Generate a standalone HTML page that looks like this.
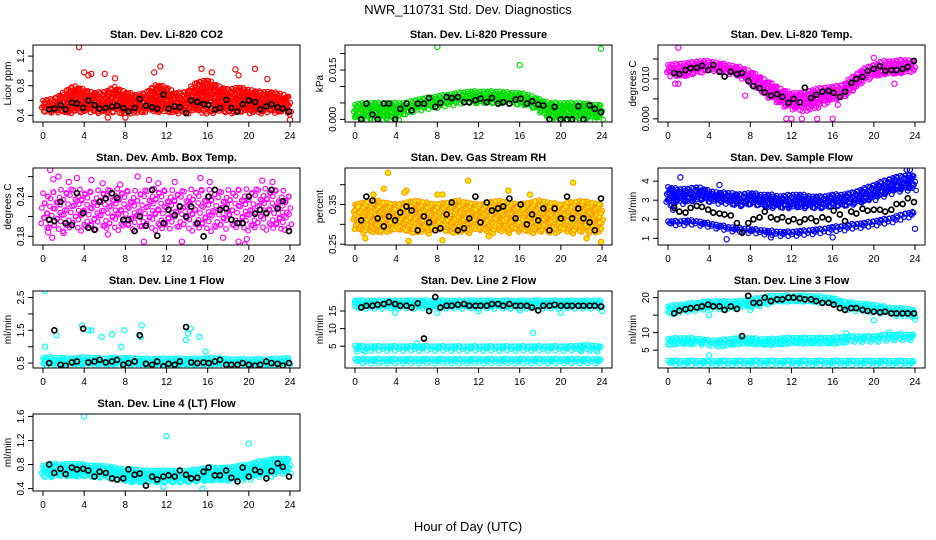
<!DOCTYPE html>
<html><head><meta charset="utf-8"><style>
body{margin:0;background:#fff;}
svg{display:block;font-family:"Liberation Sans",sans-serif;}
</style></head><body>
<svg id="c" width="936" height="540" viewBox="0 0 936 540" xmlns="http://www.w3.org/2000/svg">
<text x="468" y="14" text-anchor="middle" font-size="13">NWR_110731  Std. Dev. Diagnostics</text>
<text x="468" y="531" text-anchor="middle" font-size="13">Hour of Day (UTC)</text>
</svg>
<script>
// shared
const blackHours=[0.6,1.1,1.7,2.2,2.8,3.3,3.9,4.4,5.0,5.5,6.1,6.7,7.2,7.8,8.3,8.9,9.4,10.0,10.6,11.1,11.7,12.2,12.8,13.3,13.9,14.4,15.0,15.6,16.1,16.7,17.2,17.8,18.3,18.9,19.4,20.0,20.6,21.1,21.7,22.2,22.8,23.3,23.9];
const xTicks=[0,4,8,12,16,20,24];
// P1 CO2
const co2Black=[0.48,0.49,0.54,0.48,0.57,0.56,0.5,0.6,0.54,0.49,0.5,0.52,0.53,0.5,0.45,0.5,0.62,0.53,0.51,0.49,0.68,0.49,0.52,0.51,0.43,0.6,0.58,0.55,0.54,0.48,0.5,0.61,0.5,0.45,0.55,0.6,0.58,0.48,0.52,0.55,0.51,0.49,0.45];
const co2Lo=[0.45,0.44,0.43,0.44,0.43,0.44,0.43,0.44,0.43,0.44,0.44,0.43,0.44,0.43,0.44,0.44,0.43,0.44,0.43,0.44,0.44,0.43,0.44,0.43,0.43];
const co2Hi=[0.6,0.62,0.7,0.8,0.75,0.7,0.72,0.78,0.72,0.68,0.7,0.82,0.78,0.7,0.72,0.85,0.88,0.8,0.75,0.78,0.75,0.72,0.72,0.7,0.65];
const co2OutX=[3.5,4.0,4.4,4.7,6.0,7.0,10.8,11.4,15.4,16.4,18.7,19.0,20.6,21.8,6.3,24,8.0];
const co2OutY=[1.32,0.98,0.94,0.96,0.96,0.9,0.98,1.06,1.03,0.98,1.02,0.94,1.03,0.89,0.37,0.34,0.37];
// P2 pressure
const prBlack=[0,0.0048,0.0015,0,0.0048,0.0048,0,0.0032,0.0048,0.0027,0.0048,0.0048,0.0065,0.0038,0.005,0.0068,0.0065,0.0068,0.0052,0.0052,0.0058,0.0063,0.0052,0.0065,0.0048,0.0052,0.0048,0.006,0.0063,0.0048,0.0055,0.0045,0.0042,0,0.0038,0,0,0,0.004,0,0.0043,0.0032,0.0022];
const prLo=[0,0,0,0,0,0.002,0.003,0.0035,0.004,0.0045,0.005,0.005,0.005,0.005,0.005,0.005,0.0045,0.004,0.002,0,0,0,0,0,0];
const prHi=[0.0045,0.005,0.005,0.005,0.005,0.005,0.006,0.0065,0.007,0.0075,0.008,0.0085,0.0085,0.0085,0.0085,0.0082,0.008,0.0075,0.006,0.005,0.005,0.005,0.005,0.0045,0.0045];
const prOutX=[8,16,23.9];
const prOutY=[0.022,0.0165,0.0215];
// P3 temp
const tBlack=[0.0115,0.0112,0.0122,0.0127,0.0128,0.0133,0.0122,0.0135,0.0118,0.0106,0.0118,0.0112,0.0115,0.0095,0.0082,0.0077,0.0066,0.0058,0.0062,0.0055,0.004,0.005,0.0041,0.0078,0.0052,0.006,0.0068,0.007,0.0065,0.0055,0.0068,0.009,0.01,0.0105,0.012,0.0125,0.0132,0.012,0.0122,0.0122,0.0125,0.013,0.0145];
const tLo=[0.011,0.0105,0.0108,0.0115,0.0122,0.0118,0.0112,0.0105,0.009,0.0065,0.005,0.0035,0.0025,0.002,0.0025,0.0035,0.0045,0.005,0.007,0.0095,0.0108,0.011,0.0112,0.0115,0.012];
const tHi=[0.0135,0.0138,0.014,0.0145,0.0145,0.014,0.0135,0.013,0.012,0.0105,0.009,0.0075,0.0065,0.0065,0.0072,0.0078,0.008,0.0085,0.0105,0.0125,0.0135,0.0145,0.0145,0.0148,0.0145];
const tOutX=[1,0.7,1.0,7.5,11.5,12,13,14.5,16,22,20,16.5];
const tOutY=[0.0178,0.0088,0.0088,0.0058,0,0,0,0,0,0.0088,0.0153,0.0035];
// P4 amb box
const abBlack=[0.205,0.203,0.232,0.2,0.197,0.245,0.215,0.193,0.19,0.232,0.237,0.245,0.238,0.205,0.205,0.188,0.21,0.196,0.25,0.181,0.2,0.22,0.212,0.225,0.21,0.225,0.2,0.18,0.24,0.25,0.22,0.222,0.205,0.2,0.2,0.24,0.214,0.22,0.215,0.25,0.222,0.233,0.188];
const abLo=[0.19,0.19,0.188,0.19,0.19,0.188,0.19,0.19,0.19,0.188,0.19,0.19,0.188,0.19,0.19,0.19,0.188,0.19,0.19,0.19,0.188,0.19,0.19,0.19,0.19];
const abHi=[0.245,0.248,0.25,0.252,0.25,0.248,0.25,0.252,0.25,0.248,0.25,0.252,0.25,0.248,0.25,0.252,0.25,0.248,0.25,0.252,0.25,0.252,0.252,0.25,0.245];
const abOutX=[0.7,1.0,1.5,2.5,3.3,4.7,5.8,7.5,9.2,10.3,11.2,12.8,13.5,15.3,16.2,17.5,19.0,19.6,19.8,21.3,22.3,23.5,0.5,0.9,2.0,6.3,9.8];
const abOutY=[0.28,0.266,0.27,0.262,0.268,0.265,0.26,0.258,0.27,0.265,0.26,0.262,0.172,0.268,0.262,0.178,0.172,0.168,0.176,0.264,0.262,0.19,0.186,0.178,0.185,0.183,0.172];
// P5 RH
const rhBlack=[0.31,0.37,0.36,0.315,0.295,0.32,0.31,0.33,0.345,0.335,0.285,0.32,0.305,0.285,0.29,0.325,0.355,0.285,0.29,0.315,0.37,0.305,0.355,0.335,0.34,0.345,0.365,0.315,0.35,0.3,0.325,0.31,0.34,0.285,0.34,0.315,0.37,0.315,0.34,0.315,0.305,0.285,0.365];
const rhLo=[0.285,0.28,0.282,0.28,0.285,0.28,0.282,0.28,0.285,0.28,0.282,0.28,0.285,0.28,0.282,0.28,0.285,0.28,0.282,0.28,0.285,0.28,0.282,0.28,0.285];
const rhHi=[0.35,0.355,0.36,0.355,0.35,0.355,0.36,0.355,0.35,0.355,0.36,0.355,0.35,0.355,0.36,0.355,0.35,0.355,0.36,0.355,0.35,0.355,0.36,0.355,0.35];
const rhOutX=[3.2,1.8,2.8,5.0,8.0,8.5,11.0,14.9,17.0,21.2,1.0,5.2,8.5,13.0,22.5,23.9,0.3,4.8];
const rhOutY=[0.43,0.375,0.39,0.385,0.375,0.375,0.41,0.385,0.375,0.405,0.265,0.258,0.26,0.27,0.265,0.256,0.345,0.38];
// P6 sample flow
const sfBlack=[2.6,2.4,2.35,2.6,2.7,2.65,2.5,2.35,2.3,2.25,2.2,1.8,1.3,1.8,2.0,2.1,2.4,2.1,2.0,2.1,1.9,2.0,1.85,2.0,2.05,1.9,2.1,2.0,2.45,2.25,1.9,2.4,2.3,2.55,2.45,2.5,2.5,2.4,2.5,2.8,2.8,3.1,2.9];
const sfUpLo=[2.7,2.8,2.9,3.0,2.9,2.9,2.8,2.7,2.8,2.7,2.6,2.6,2.6,2.6,2.6,2.6,2.7,2.7,2.8,2.9,3.0,3.2,3.4,3.5,3.5];
const sfUpHi=[3.7,3.6,3.6,3.7,3.5,3.4,3.4,3.3,3.4,3.3,3.3,3.2,3.3,3.3,3.2,3.2,3.3,3.3,3.4,3.6,3.8,4.0,4.2,4.3,4.3];
const sfLowLo=[1.7,1.7,1.75,1.7,1.6,1.5,1.4,1.35,1.3,1.25,1.2,1.15,1.15,1.2,1.25,1.3,1.4,1.45,1.55,1.6,1.7,1.8,1.9,2.1,2.2];
const sfLowHi=[1.9,1.9,1.95,1.9,1.8,1.7,1.6,1.55,1.5,1.45,1.4,1.35,1.35,1.4,1.45,1.5,1.6,1.65,1.75,1.8,1.9,2.0,2.1,2.3,2.4];
const sfOutX=[1.2,5.0,5.7,10.0,16.0,23.2,23.5,24.0,0.5];
const sfOutY=[4.2,3.8,0.95,1.05,1.05,4.6,4.6,1.5,2.5];
// P7 line 1
const l1Black=[0.5,1.5,0.45,0.42,0.52,0.55,1.55,0.52,0.55,0.6,0.52,0.55,0.6,0.45,0.5,0.55,1.35,0.48,0.45,0.55,0.4,0.48,0.45,0.55,1.6,0.52,0.5,0.52,0.5,0.55,0.6,0.45,0.45,0.45,0.5,0.45,0.42,0.45,0.55,0.5,0.48,0.42,0.5];
const l1Lo=[0.42,0.42,0.42,0.42,0.42,0.42,0.42,0.42,0.42,0.42,0.42,0.42,0.42,0.42,0.42,0.42,0.42,0.42,0.42,0.42,0.42,0.42,0.42,0.42,0.42];
const l1Hi=[0.66,0.68,0.66,0.65,0.68,0.66,0.65,0.66,0.66,0.65,0.64,0.64,0.64,0.64,0.64,0.64,0.65,0.66,0.62,0.62,0.62,0.62,0.62,0.64,0.66];
const l1OutX=[0.2,0.2,1.3,3.8,4.4,4.7,5.7,6.7,7.6,7.9,9.6,9.5,13.9,14.1,15.2,15.8,14.3];
const l1OutY=[2.7,1.0,1.35,1.65,1.5,1.5,1.3,1.38,1.0,1.5,1.65,1.3,1.2,1.4,1.3,0.85,1.55];
// P8 line 2
const l2Black=[16,16.5,16.5,16.8,17,17.5,17,16.5,16.5,16,17.2,7.2,15,19,16,16.5,16.5,16.8,17,16.5,16.5,16.5,16.5,17,17,16.5,17,16.5,16.5,16.5,16,15.2,16.5,16.5,16.8,16.5,16.5,16.5,16.5,16.5,16.5,16.5,16.3];
const l2TopLo=[16,16,16,16,16,16,16,16,16,16,16,16,16,16,16,16,16,16,16,16,16,16,16,16,16];
const l2TopHi=[18,18,18,18,18,18,18,18,18,18,18,18,18,18,18,18,18,18,18,18,18,18,18,18,18];
const l2MidLo=[3.8,3.8,3.9,3.9,3.9,3.9,3.9,3.9,3.9,3.9,3.9,3.9,3.9,3.9,3.9,3.9,3.9,3.9,3.9,3.9,3.9,3.9,3.9,3.9,3.9];
const l2MidHi=[5.2,5.0,5.0,5.0,5.0,5.0,5.0,5.0,5.0,5.0,5.0,5.0,5.0,5.0,5.0,5.0,5.0,5.0,5.0,5.0,5.0,5.0,5.3,5.3,5.0];
const l2BotLo=[0.4,0.4,0.4,0.4,0.4,0.4,0.4,0.4,0.4,0.4,0.4,0.4,0.4,0.4,0.4,0.4,0.4,0.4,0.4,0.4,0.4,0.4,0.4,0.4,0.4];
const l2BotHi=[1.4,1.4,1.4,1.4,1.4,1.4,1.4,1.4,1.4,1.4,1.4,1.4,1.4,1.4,1.4,1.4,1.4,1.4,1.4,1.4,1.4,1.4,1.4,1.4,1.4];
const l2OutX=[0,24,3.9,6.0,8,12,16,17.3,20];
const l2OutY=[17.5,15,14.5,5.8,14.5,15,15.2,8.8,14.5];
// P9 line 3
const l3Black=[15.5,16.3,16.7,17,17.2,17.5,18,17.5,17.5,16.5,17.5,16.8,9,20.5,18.5,18.5,20,19,19.5,19.5,20,20,19.8,19.5,19.5,19,18.5,18.5,18,17,16.5,17,17,16.5,16.2,16,15.8,16,15.5,15.5,15.5,15.5,15.5];
const l3TopLo=[15.5,16,16.3,16.7,17,17,17,17,17.5,18,18.5,18.8,19,19,18.8,18.5,18,17,16.5,16.3,16,15.5,15,15,14.5];
const l3TopHi=[17.5,18,18.3,18.7,19,19,19,19,19.5,20,20.5,20.6,20.6,20.6,20.5,20.3,20,19,18.5,18.3,18,17.5,17,17,16.5];
const l3MidLo=[6.5,6.8,6.8,6.8,6.3,6.2,6.5,6.8,6.8,6.6,6.6,6.8,7,7,7,7,7,7.2,7.5,7.5,7.5,7.8,8,8,8];
const l3MidHi=[8.2,8.5,8.5,8.3,7.8,7.8,8.2,8.5,8.5,8.2,8.2,8.4,8.6,8.6,8.6,8.6,8.6,8.8,9,9,9,9.3,9.5,9.5,9.5];
const l3BotLo=[1.2,1.2,1.2,1.2,1.2,1.2,1.2,1.2,1.2,1.2,1.2,1.2,1.2,1.2,1.2,1.2,1.2,1.2,1.2,1.2,1.2,1.2,1.2,1.2,1.2];
const l3BotHi=[2.0,2.0,2.0,2.0,2.0,2.0,2.0,2.0,2.0,2.0,2.0,2.0,2.0,2.0,2.0,2.0,2.0,2.0,2.0,2.0,2.0,2.0,2.0,2.0,2.0];
const l3OutX=[4.0,4.0,20,21.5,17.3,24,8];
const l3OutY=[3.5,15,13.5,10,9.8,13.8,16.5];
// P10 line 4
const l4Black=[0.8,0.66,0.73,0.64,0.75,0.72,0.73,0.7,0.6,0.68,0.66,0.57,0.55,0.57,0.72,0.63,0.65,0.45,0.6,0.55,0.6,0.62,0.6,0.7,0.63,0.57,0.58,0.68,0.75,0.62,0.62,0.7,0.58,0.52,0.75,0.6,0.71,0.68,0.57,0.69,0.82,0.76,0.6];
const l4Lo=[0.58,0.6,0.6,0.6,0.6,0.58,0.57,0.55,0.52,0.5,0.5,0.5,0.5,0.5,0.5,0.52,0.52,0.52,0.53,0.55,0.55,0.6,0.62,0.65,0.65];
const l4Hi=[0.78,0.82,0.8,0.82,0.8,0.78,0.78,0.75,0.72,0.72,0.7,0.7,0.7,0.7,0.7,0.72,0.75,0.75,0.75,0.78,0.8,0.85,0.88,0.9,0.9];
const l4OutX=[4,12,20,15.5,11.7];
const l4OutY=[1.6,1.27,1.15,0.4,0.43];

const NS="http://www.w3.org/2000/svg";
const svg=document.getElementById('c');
function mk(tag,attrs,parent){const e=document.createElementNS(NS,tag);for(const k in attrs)e.setAttribute(k,attrs[k]);(parent||svg).appendChild(e);return e;}
const colX=[43,355,668], rowY=[45,168,291,414], H=77, XW=247;
// deterministic texture offsets for cloud fill (visual only)
const jit=[0,1.6,-1.2,0.8,-1.8,1.1,-0.5,1.9,-1.4,0.3,-0.9,1.4];

const panels=[
 {name:'co2',title:'Stan. Dev. Li-820 CO2',ylab:'Licor ppm',c:0,r:0,d:[0.31,1.35],ticks:[0.4,0.6,0.8,1.0,1.2],labs:['0.4','','0.8','','1.2'],col:'#ff0000',bands:[[co2Lo,co2Hi]],ox:co2OutX,oy:co2OutY,blk:co2Black},
 {name:'pressure',title:'Stan. Dev. Li-820 Pressure',ylab:'kPa',c:1,r:0,d:[-0.0008,0.0226],ticks:[0,0.005,0.01,0.015,0.02],labs:['0.000','','','0.015',''],col:'#00dd00',bands:[[prLo,prHi]],ox:prOutX,oy:prOutY,blk:prBlack},
 {name:'temp',title:'Stan. Dev. Li-820 Temp.',ylab:'degrees C',c:2,r:0,d:[-0.0008,0.0185],ticks:[0,0.005,0.01,0.015],labs:['0.000','','0.010',''],col:'#ff00ff',bands:[[tLo,tHi]],ox:tOutX,oy:tOutY,blk:tBlack},
 {name:'amb-box',title:'Stan. Dev. Amb. Box Temp.',ylab:'degrees C',c:0,r:1,d:[0.167,0.283],ticks:[0.18,0.21,0.24,0.27],labs:['0.18','','0.24',''],col:'#ff00ff',bands:[[abLo,abHi]],ox:abOutX,oy:abOutY,blk:abBlack,sparse:true},
 {name:'rh',title:'Stan. Dev. Gas Stream RH',ylab:'percent',c:1,r:1,d:[0.248,0.442],ticks:[0.25,0.3,0.35,0.4],labs:['0.25','','0.35',''],col:'#ff9900',stroke2:'#ffee00',bands:[[rhLo,rhHi]],ox:rhOutX,oy:rhOutY,blk:rhBlack},
 {name:'sample-flow',title:'Stan. Dev. Sample Flow',ylab:'ml/min',c:2,r:1,d:[0.65,4.69],ticks:[1,2,3,4],labs:['1','2','3','4'],col:'#0000ff',bands:[[sfUpLo,sfUpHi],[sfLowLo,sfLowHi]],ox:sfOutX,oy:sfOutY,blk:sfBlack},
 {name:'line1',title:'Stan. Dev. Line 1 Flow',ylab:'ml/min',c:0,r:2,d:[0.35,2.7],ticks:[0.5,1,1.5,2,2.5],labs:['0.5','','1.5','','2.5'],col:'#00ffff',bands:[[l1Lo,l1Hi]],ox:l1OutX,oy:l1OutY,blk:l1Black},
 {name:'line2',title:'Stan. Dev. Line 2 Flow',ylab:'ml/min',c:1,r:2,d:[-1.2,20.7],ticks:[5,10,15],labs:['5','10','15'],col:'#00ffff',bands:[[l2TopLo,l2TopHi],[l2MidLo,l2MidHi],[l2BotLo,l2BotHi]],ox:l2OutX,oy:l2OutY,blk:l2Black},
 {name:'line3',title:'Stan. Dev. Line 3 Flow',ylab:'ml/min',c:2,r:2,d:[-0.1,21.9],ticks:[5,10,15,20],labs:['5','10','','20'],col:'#00ffff',bands:[[l3TopLo,l3TopHi],[l3MidLo,l3MidHi],[l3BotLo,l3BotHi]],ox:l3OutX,oy:l3OutY,blk:l3Black},
 {name:'line4',title:'Stan. Dev. Line 4 (LT) Flow',ylab:'ml/min',c:0,r:3,d:[0.36,1.64],ticks:[0.4,0.8,1.2,1.6],labs:['0.4','0.8','1.2','1.6'],col:'#00ffff',bands:[[l4Lo,l4Hi]],ox:l4OutX,oy:l4OutY,blk:l4Black}
];

panels.forEach(p=>{
  const x0=colX[p.c], top=rowY[p.r], bl=x0-10, bw=XW+20;
  const X=h=>x0+h/24*XW;
  const Y=v=>top+(p.d[1]-v)/(p.d[1]-p.d[0])*H;
  const g=mk('g',{});
  
  
  const cp=mk('clipPath',{id:'cl'+p.name},g);
  mk('rect',{x:bl,y:top,width:bw,height:H},cp);
  const t=mk('text',{x:bl+bw/2,y:top-7,'text-anchor':'middle','font-size':11,'font-weight':'bold'},g);
  t.textContent=p.title;
  
  
  const pts=mk('g',{'clip-path':'url(#cl'+p.name+')',fill:'none','stroke-width':1.2},g);
  
  
  const stroke=p.col;
  const interp=(arr,h)=>{const i=Math.min(23,Math.floor(h));const f=h-i;return arr[i]*(1-f)+arr[i+1]*f;};
  const dx=p.sparse?0.3:0.13, dy=p.sparse?8:4.2;
  p.bands.forEach(([lo,hi])=>{
    let k=0;
    for(let h=0;h<=24.001;h+=dx,k++){
      const ya=Y(interp(lo,h)), yb=Y(interp(hi,h));
      let m=0;
      for(let y=yb+(k%3)*dy/3;y<=ya;y+=dy,m++){
        const jx=jit[(k+m)%jit.length], jy=jit[(k*5+m*7)%jit.length];
        const c=mk('circle',{cx:(X(h)+jx).toFixed(1),cy:(y+jy).toFixed(1),r:2.3,stroke:stroke},pts);
        if(p.stroke2){c.setAttribute('fill',p.stroke2);}
      }
    }
  });
  p.ox.forEach((h,i)=>{
    const c=mk('circle',{cx:X(h),cy:Y(p.oy[i]),r:2.6,stroke:stroke},pts);
    if(p.stroke2){c.setAttribute('fill',p.stroke2);}
  });
  const bg=mk('g',{'clip-path':'url(#cl'+p.name+')',fill:'none',stroke:'#000','stroke-width':1.7},g);
  
  
  blackHours.forEach((h,i)=>{mk('circle',{cx:X(h),cy:Y(p.blk[i]),r:2.5},bg);});
  const box=mk('rect',{x:bl,y:top,width:bw,height:H,fill:'none',stroke:'#000','stroke-width':1},g);
  
  
  const xa=mk('g',{stroke:'#000','stroke-width':1},g);
  
  
  mk('line',{x1:X(0),x2:X(24),y1:top+H,y2:top+H},xa);
  xTicks.forEach(v=>{
    mk('line',{x1:X(v),x2:X(v),y1:top+H,y2:top+H+5},xa);
    const tx=mk('text',{x:X(v),y:top+H+17,'text-anchor':'middle','font-size':10,stroke:'none',fill:'#000'},xa);
    tx.textContent=v;
  });
  const ya=mk('g',{stroke:'#000','stroke-width':1},g);
  
  
  mk('line',{x1:bl,x2:bl,y1:Y(p.ticks[0]),y2:Y(p.ticks[p.ticks.length-1])},ya);
  p.ticks.forEach((v,i)=>{
    mk('line',{x1:bl-5,x2:bl,y1:Y(v),y2:Y(v)},ya);
    if(p.labs[i]){
      const tx=mk('text',{x:0,y:0,'text-anchor':'middle','font-size':10,stroke:'none',fill:'#000',transform:`translate(${bl-9},${Y(v)}) rotate(-90)`},ya);
      tx.textContent=p.labs[i];
    }
  });
  const yl=mk('text',{x:0,y:0,'text-anchor':'middle','font-size':10,transform:`translate(${bl-22},${top+H/2}) rotate(-90)`},g);
  yl.textContent=p.ylab;
  
  
});
</script>
</body></html>
